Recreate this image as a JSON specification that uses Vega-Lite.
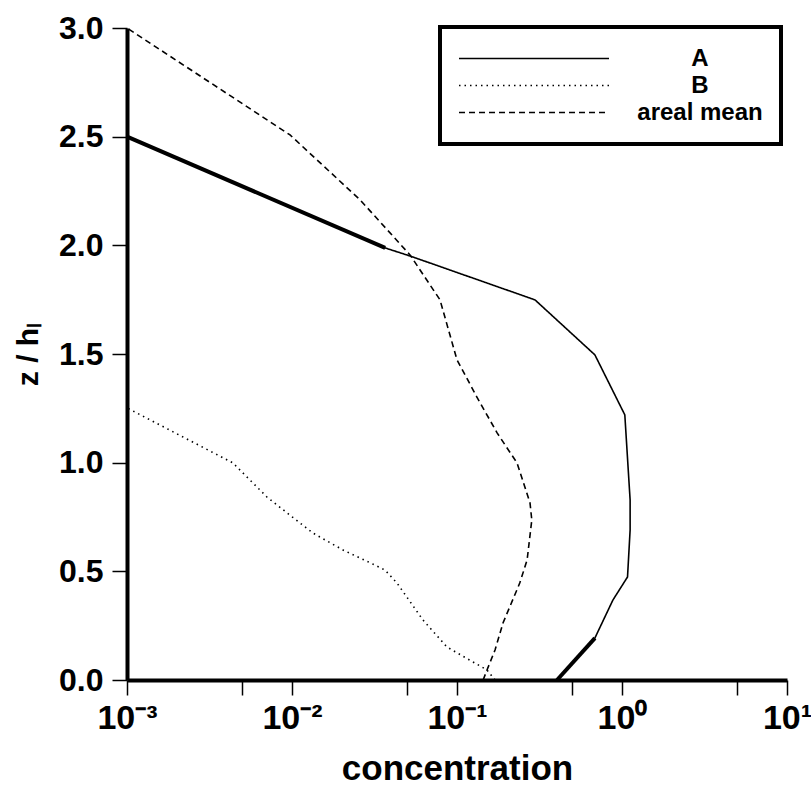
{
  "$schema": "https://vega.github.io/schema/vega-lite/v6.json",
  "autosize": "none",
  "width": 660,
  "height": 652,
  "padding": {"left": 127, "top": 28, "right": 24, "bottom": 112},
  "background": "white",
  "config": {
    "view": {"stroke": null},
    "font": "Liberation Sans",
    "legend": {"strokeWidth": 4},
    "axis": {
      "domainColor": "black",
      "domainWidth": 4,
      "tickColor": "black",
      "tickWidth": 1.5,
      "tickSize": 15,
      "labelColor": "black",
      "labelFont": "Liberation Sans",
      "labelFontWeight": "bold",
      "titleColor": "black",
      "titleFont": "Liberation Sans",
      "titleFontWeight": "bold",
      "grid": false
    }
  },
  "data": {
    "values": [
      {"series": "A", "c": 0.001, "z": 2.5},
      {"series": "A", "c": 0.0367, "z": 1.988},
      {"series": "A", "c": 0.0519, "z": 1.951},
      {"series": "A", "c": 0.297, "z": 1.749},
      {"series": "A", "c": 0.685, "z": 1.496},
      {"series": "A", "c": 1.04, "z": 1.22},
      {"series": "A", "c": 1.12, "z": 0.828},
      {"series": "A", "c": 1.12, "z": 0.69},
      {"series": "A", "c": 1.08, "z": 0.474},
      {"series": "A", "c": 0.881, "z": 0.368},
      {"series": "A", "c": 0.685, "z": 0.193},
      {"series": "A", "c": 0.404, "z": 0.0},
      {"series": "B", "c": 0.001, "z": 1.252},
      {"series": "B", "c": 0.00438, "z": 0.999},
      {"series": "B", "c": 0.00705, "z": 0.842},
      {"series": "B", "c": 0.00933, "z": 0.769},
      {"series": "B", "c": 0.0134, "z": 0.676},
      {"series": "B", "c": 0.0204, "z": 0.598},
      {"series": "B", "c": 0.0318, "z": 0.529},
      {"series": "B", "c": 0.0366, "z": 0.506},
      {"series": "B", "c": 0.0433, "z": 0.446},
      {"series": "B", "c": 0.0622, "z": 0.276},
      {"series": "B", "c": 0.0869, "z": 0.152},
      {"series": "B", "c": 0.152, "z": 0.046},
      {"series": "B", "c": 0.17, "z": 0.0},
      {"series": "areal mean", "c": 0.001, "z": 3.0},
      {"series": "areal mean", "c": 0.00973, "z": 2.508},
      {"series": "areal mean", "c": 0.0258, "z": 2.21},
      {"series": "areal mean", "c": 0.0519, "z": 1.956},
      {"series": "areal mean", "c": 0.0789, "z": 1.749},
      {"series": "areal mean", "c": 0.1, "z": 1.473},
      {"series": "areal mean", "c": 0.132, "z": 1.302},
      {"series": "areal mean", "c": 0.175, "z": 1.137},
      {"series": "areal mean", "c": 0.231, "z": 0.999},
      {"series": "areal mean", "c": 0.277, "z": 0.815},
      {"series": "areal mean", "c": 0.284, "z": 0.736},
      {"series": "areal mean", "c": 0.266, "z": 0.552},
      {"series": "areal mean", "c": 0.24, "z": 0.446},
      {"series": "areal mean", "c": 0.19, "z": 0.262},
      {"series": "areal mean", "c": 0.17, "z": 0.138},
      {"series": "areal mean", "c": 0.152, "z": 0.046},
      {"series": "areal mean", "c": 0.144, "z": 0.0}
    ]
  },
  "encoding": {
    "x": {
      "field": "c",
      "type": "quantitative",
      "scale": {"type": "log", "domain": [0.001, 10], "nice": false},
      "axis": {
        "title": "concentration",
        "titleFontSize": 35,
        "titlePadding": 16,
        "labelFontSize": 34,
        "labelPadding": 6,
        "values": [0.001, 0.005, 0.01, 0.05, 0.1, 0.5, 1, 5, 10],
        "labelExpr": "datum.value == 0.001 ? '10⁻³' : datum.value == 0.01 ? '10⁻²' : datum.value == 0.1 ? '10⁻¹' : datum.value == 1 ? '10⁰' : datum.value == 10 ? '10¹' : ''",
        "labelFlush": false,
        "labelOverlap": false
      }
    },
    "y": {
      "field": "z",
      "type": "quantitative",
      "scale": {"domain": [0, 3], "nice": false, "zero": false},
      "axis": {
        "title": "z  / hₗ",
        "titleFontSize": 30,
        "titlePadding": 15,
        "labelFontSize": 32,
        "labelPadding": 9,
        "values": [0, 0.5, 1, 1.5, 2, 2.5, 3],
        "format": ".1f",
        "labelFlush": false,
        "labelOverlap": false
      }
    },
    "order": {"field": "z", "type": "quantitative"}
  },
  "layer": [
    {
      "mark": {"type": "line", "color": "black", "strokeWidth": 1.6, "clip": true},
      "encoding": {
        "strokeDash": {
          "field": "series",
          "type": "nominal",
          "scale": {"domain": ["A", "B", "areal mean"], "range": [[1, 0], [1.5, 4], [6, 4]]},
          "legend": {
            "title": null,
            "orient": "none",
            "legendX": 313,
            "legendY": -1,
            "padding": 18,
            "strokeColor": "black",
            "fillColor": "white",
            "symbolType": "stroke",
            "symbolSize": 22500,
            "symbolStrokeWidth": 1.6,
            "symbolStrokeColor": "black",
            "clipHeight": 27,
            "rowPadding": 0,
            "labelFontSize": 24,
            "labelFont": "Liberation Sans",
            "labelFontWeight": "bold",
            "labelColor": "black",
            "labelAlign": "center",
            "labelOffset": 90,
            "labelLimit": 300
          }
        }
      }
    },
    {
      "transform": [{"filter": "datum.series == 'A' && datum.z >= 1.98"}],
      "mark": {"type": "line", "color": "black", "strokeWidth": 4}
    },
    {
      "transform": [{"filter": "datum.series == 'A' && datum.z <= 0.2"}],
      "mark": {"type": "line", "color": "black", "strokeWidth": 4}
    }
  ]
}
